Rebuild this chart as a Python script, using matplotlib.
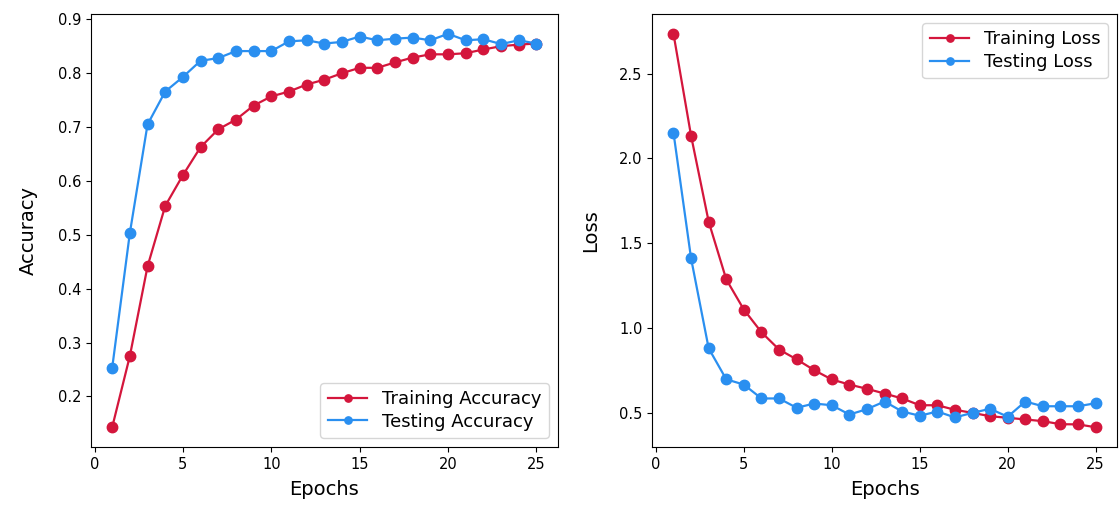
import numpy as np
import matplotlib
matplotlib.use("Agg")
import matplotlib.pyplot as plt

epochs = list(range(1, 26))

train_acc = [0.143, 0.275, 0.441, 0.553, 0.610, 0.662, 0.695, 0.713, 0.739, 0.756,
             0.765, 0.778, 0.787, 0.799, 0.809, 0.809, 0.819, 0.828, 0.834, 0.834,
             0.836, 0.843, 0.849, 0.852, 0.854]
test_acc = [0.253, 0.503, 0.704, 0.765, 0.792, 0.822, 0.827, 0.840, 0.840, 0.840,
            0.858, 0.860, 0.854, 0.857, 0.867, 0.860, 0.863, 0.865, 0.860, 0.872,
            0.860, 0.862, 0.853, 0.860, 0.854]

train_loss = [2.736, 2.134, 1.627, 1.286, 1.108, 0.974, 0.872, 0.814, 0.750, 0.695,
              0.665, 0.640, 0.612, 0.583, 0.543, 0.543, 0.516, 0.498, 0.478, 0.469,
              0.459, 0.449, 0.431, 0.430, 0.413]
test_loss = [2.152, 1.410, 0.879, 0.696, 0.665, 0.583, 0.583, 0.528, 0.553, 0.543,
             0.488, 0.520, 0.565, 0.506, 0.481, 0.506, 0.471, 0.498, 0.522, 0.475,
             0.565, 0.537, 0.537, 0.537, 0.555]

red = "#d4163c"
blue = "#2a8ff0"

fig = plt.figure(figsize=(11.19, 5.05), dpi=100)
ax1 = fig.add_axes([0.0813, 0.115, 0.417, 0.857])
ax2 = fig.add_axes([0.583, 0.115, 0.415, 0.857])

leg_kw = dict(fontsize=13, markerscale=0.7, labelspacing=0.25, handlelength=2.2)

ax1.plot(epochs, train_acc, "-o", color=red, lw=1.6, ms=7.5, label="Training Accuracy")
ax1.plot(epochs, test_acc, "-o", color=blue, lw=1.6, ms=7.5, label="Testing Accuracy")
ax1.set_xlabel("Epochs", fontsize=14, labelpad=6)
ax1.set_ylabel("Accuracy", fontsize=14, labelpad=14)
ax1.legend(loc="lower right", **leg_kw)

ax2.plot(epochs, train_loss, "-o", color=red, lw=1.6, ms=7.5, label="Training Loss")
ax2.plot(epochs, test_loss, "-o", color=blue, lw=1.6, ms=7.5, label="Testing Loss")
ax2.set_xlabel("Epochs", fontsize=14, labelpad=6)
ax2.set_ylabel("Loss", fontsize=14, labelpad=14)
ax2.legend(loc="upper right", **leg_kw)

for ax in (ax1, ax2):
    ax.tick_params(labelsize=10.5)

fig.savefig("out.png", dpi=100)
